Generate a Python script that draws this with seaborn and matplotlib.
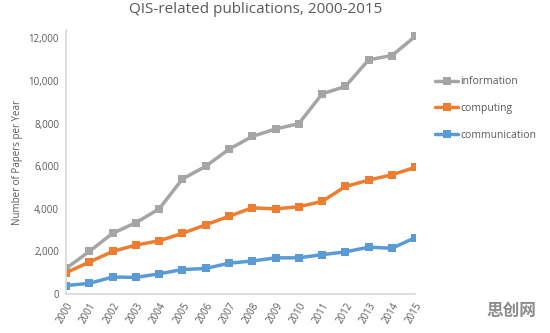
import matplotlib
matplotlib.use("Agg")
import matplotlib.pyplot as plt
import pandas as pd
import seaborn as sns

sns.set_theme(style="white")
plt.rcParams["font.family"] = ["Open Sans", "Noto Sans CJK SC", "DejaVu Sans"]

# data
years = list(range(2000, 2016))
information = [1200, 2000, 2850, 3350, 4000, 5400, 6000, 6800, 7400, 7750, 8000, 9400, 9750, 11000, 11200, 12100]
computing = [1000, 1500, 2000, 2300, 2500, 2850, 3250, 3650, 4050, 4000, 4100, 4350, 5050, 5350, 5600, 5950]
communication = [400, 500, 800, 780, 950, 1150, 1200, 1450, 1550, 1700, 1700, 1850, 1980, 2200, 2150, 2650]
series = ["information", "computing", "communication"]
yticks = [0, 2000, 4000, 6000, 8000, 10000, 12000]

palette = {"information": "#A5A5A5", "computing": "#ED7D31", "communication": "#5B9BD5"}
text_color = "#595959"

df = pd.DataFrame({"year": years, "information": information,
                   "computing": computing, "communication": communication})
long_df = df.melt(id_vars="year", value_vars=series, var_name="series", value_name="papers")

fig = plt.figure(figsize=(5.5, 3.33), dpi=100)
ax = fig.add_axes([0.12, 0.117, 0.635, 0.793])

sns.lineplot(data=long_df, x="year", y="papers", hue="series", hue_order=series,
             style="series", markers={s: "s" for s in series}, dashes=False,
             palette=palette, linewidth=2.5, markersize=6, markeredgewidth=0, ax=ax)

ax.set_xlim(2000, 2015)
ax.set_ylim(0, 12400)
ax.set_xticks(years)
ax.set_xticklabels([str(y) for y in years], rotation=60, ha="right",
                   rotation_mode="anchor", fontsize=7, color=text_color)
ax.set_yticks(yticks)
ax.set_yticklabels([f"{v:,}" for v in yticks], fontsize=7, color=text_color)
ax.set_xlabel("")
ax.set_ylabel("Number of Papers per Year", fontsize=7, color=text_color)

for side in ["top", "right"]:
    ax.spines[side].set_visible(False)
for side in ["left", "bottom"]:
    ax.spines[side].set_color("#D9D9D9")
    ax.spines[side].set_linewidth(1.2)
ax.tick_params(axis="both", length=3, color="#D9D9D9", width=1, pad=2)

leg = ax.legend(loc="upper left", bbox_to_anchor=(1.03, 0.86), frameon=False,
                fontsize=7.5, labelspacing=1.5, handlelength=2.2, handletextpad=0.2)
for t in leg.get_texts():
    t.set_color(text_color)

fig.text(0.465, 0.97, "QIS-related publications, 2000-2015", ha="center", va="center",
         fontsize=11, color=text_color)
fig.text(0.93, 0.065, "思创网", ha="center", va="center", fontsize=12,
         fontweight="bold", color="#8C8C8C", family=["Noto Sans CJK SC", "DejaVu Sans"])

fig.savefig("out.png", dpi=100)
